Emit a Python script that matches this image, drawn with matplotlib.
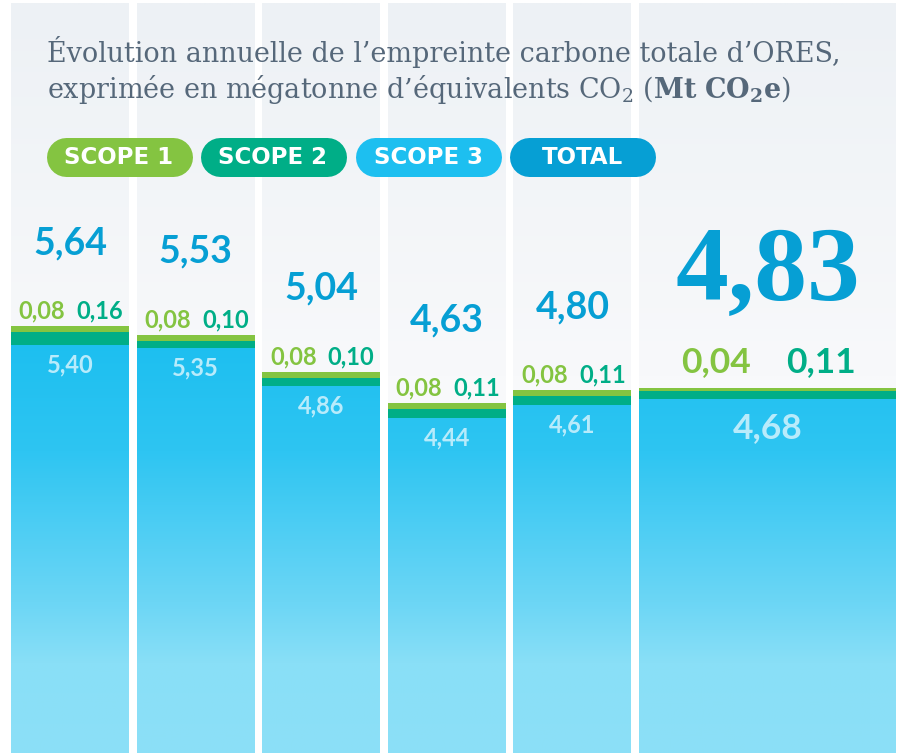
import numpy as np
import matplotlib
matplotlib.use("Agg")
from matplotlib import pyplot as plt
from matplotlib.colors import to_rgb

years = ["2020", "2021", "2022", "2023", "2024", "2025"]
scope1 = [0.08, 0.08, 0.08, 0.08, 0.08, 0.04]
scope2 = [0.16, 0.10, 0.10, 0.11, 0.11, 0.11]
scope3 = [5.40, 5.35, 4.86, 4.44, 4.61, 4.68]
totals = [5.64, 5.53, 5.04, 4.63, 4.80, 4.83]
legend_labels = ["SCOPE 1", "SCOPE 2", "SCOPE 3", "TOTAL"]

C_S1 = "#84c441"
C_S2 = "#00ae87"
C_S3 = "#1dbff0"
C_TOT = "#069fd4"
C_TITLE = "#56687a"
C_YEAR = "#2c3d48"

W, H = 898, 753
PX_PER_UNIT = 76.0
BASE_PX = 755.0

plt.rcParams["mathtext.fontset"] = "dejavuserif"


def fmt(v):
    return f"{v:.2f}".replace(".", ",")


def gradient_fill(ax, patch, ys, colors, y0, y1):
    """Remplir un patch d'un dégradé vertical."""
    rows = np.linspace(y0, y1, 200)
    rgb = np.array([to_rgb(c) for c in colors])
    img = np.stack([np.interp(rows, ys, rgb[:, k]) for k in range(3)], axis=-1)
    img = img[:, None, :]
    x0 = patch.get_x()
    im = ax.imshow(img, extent=(x0, x0 + patch.get_width(), y0, y1),
                   origin="lower", aspect="auto", zorder=patch.get_zorder(),
                   interpolation="bilinear")
    im.set_clip_path(patch)


fig = plt.figure(figsize=(W / 100, H / 100), dpi=100)
fig.patch.set_facecolor("white")
ax = fig.add_axes([0, 0, 1, 1])
ax.set_axis_off()

# colonnes
col_w, gap, left0 = 118, 7.6, 11
lefts = [left0 + i * (col_w + gap) for i in range(len(years))]
widths = [col_w] * (len(years) - 1) + [W - 2 - lefts[-1]]
centers = [l + w / 2 for l, w in zip(lefts, widths)]
y_top = (BASE_PX - 3) / PX_PER_UNIT
y_bot = (BASE_PX - H) / PX_PER_UNIT

bg = ax.bar(centers, [y_top - y_bot] * len(years), width=widths, bottom=y_bot,
            color="#f0f3f6", zorder=1)
for p in bg:
    gradient_fill(ax, p, [0, 5.0, y_top], ["#f9fafb", "#f8f9fb", "#edf1f5"],
                  y_bot, y_top)

s3 = ax.bar(centers, scope3, width=widths, bottom=y_bot, color=C_S3, zorder=2)
for p, v in zip(s3, scope3):
    p.set_height(v - y_bot)
    gradient_fill(ax, p, [0, 1.2, 2.0, 4.0, 5.4],
                  ["#8ce0f7", "#89dff7", "#6cd6f5", "#2ec5f2", "#1dbff0"],
                  y_bot, 5.45)
bottom2 = scope3
ax.bar(centers, scope2, width=widths, bottom=bottom2, color=C_S2, zorder=3)
bottom1 = [a + b for a, b in zip(scope3, scope2)]
ax.bar(centers, scope1, width=widths, bottom=bottom1, color=C_S1, zorder=3)

# étiquettes
for i, (c, yr) in enumerate(zip(centers, years)):
    big = i == len(years) - 1
    top = totals[i]
    if big:
        ax.annotate(fmt(totals[i]), (c, top), xytext=(0, 88),
                    textcoords="offset pixels", ha="center", va="baseline",
                    fontsize=76, fontweight="bold", family="Liberation Serif",
                    color=C_TOT, zorder=5)
        s_size, s_dy, s_dx, in_dy, y_size = 25.5, 16, (-51.5, 53.5), -39, 29
    else:
        ax.annotate(fmt(totals[i]), (c, top), xytext=(0, 72),
                    textcoords="offset pixels", ha="center", va="baseline",
                    fontsize=27, fontweight="bold", family="Lato",
                    color=C_TOT, zorder=5)
        s_size, s_dy, s_dx, in_dy, y_size = 17, 7.5, (-28, 30), -27.5, 14
    ax.annotate(fmt(scope1[i]), (c, top), xytext=(s_dx[0], s_dy),
                textcoords="offset pixels", ha="center", va="baseline",
                fontsize=s_size, fontweight="bold", family="Lato",
                color=C_S1, zorder=5)
    ax.annotate(fmt(scope2[i]), (c, top), xytext=(s_dx[1], s_dy),
                textcoords="offset pixels", ha="center", va="baseline",
                fontsize=s_size, fontweight="bold", family="Lato",
                color=C_S2, zorder=5)
    ax.annotate(fmt(scope3[i]), (c, scope3[i]), xytext=(0, in_dy),
                textcoords="offset pixels", ha="center", va="baseline",
                fontsize=s_size, fontweight="bold", family="Lato",
                color="#b8ebfb", zorder=5)
    ax.annotate(yr, (c, 0), xytext=(0, BASE_PX - 728),
                textcoords="offset pixels", ha="center", va="baseline",
                fontsize=y_size, family="Lato", color=C_YEAR, zorder=5)

ax.set_xlim(0, W)
ax.set_ylim(y_bot, BASE_PX / PX_PER_UNIT)

# titre et légende en pixels
ax2 = fig.add_axes([0, 0, 1, 1], zorder=10)
ax2.set_axis_off()
ax2.patch.set_alpha(0)
ax2.set_xlim(0, W)
ax2.set_ylim(H, 0)

t1 = ax2.text(47, 62, "Évolution annuelle de l’empreinte carbone totale d’ORES,",
              fontsize=19, family="DejaVu Serif", color=C_TITLE, va="baseline")
fig.canvas.draw()
bb = t1.get_window_extent()
size = 19 * 795 / bb.width
t1.set_fontsize(size)
ax2.text(47, 98, r"exprimée en mégatonne d’équivalents CO$_2$ ($\mathbf{Mt\ CO_2e}$)",
         fontsize=size, family="DejaVu Serif", color=C_TITLE, va="baseline")

# pastilles de légende : trait épais à bouts ronds
pill_x = [46, 200, 355, 509]
pill_c = [C_S1, C_S2, C_S3, C_TOT]
pw, ph, py = 146, 39, 156.5
for x, lab, col in zip(pill_x, legend_labels, pill_c):
    r = ph / 2
    ax2.plot([x + r, x + pw - r], [py, py], color=col, lw=ph * 0.72,
             solid_capstyle="round")
    ax2.text(x + pw / 2, py + 1, lab, ha="center", va="center",
             fontsize=16.5, fontweight="bold", family="DejaVu Sans",
             color="white")

fig.savefig("out.png", dpi=100)
